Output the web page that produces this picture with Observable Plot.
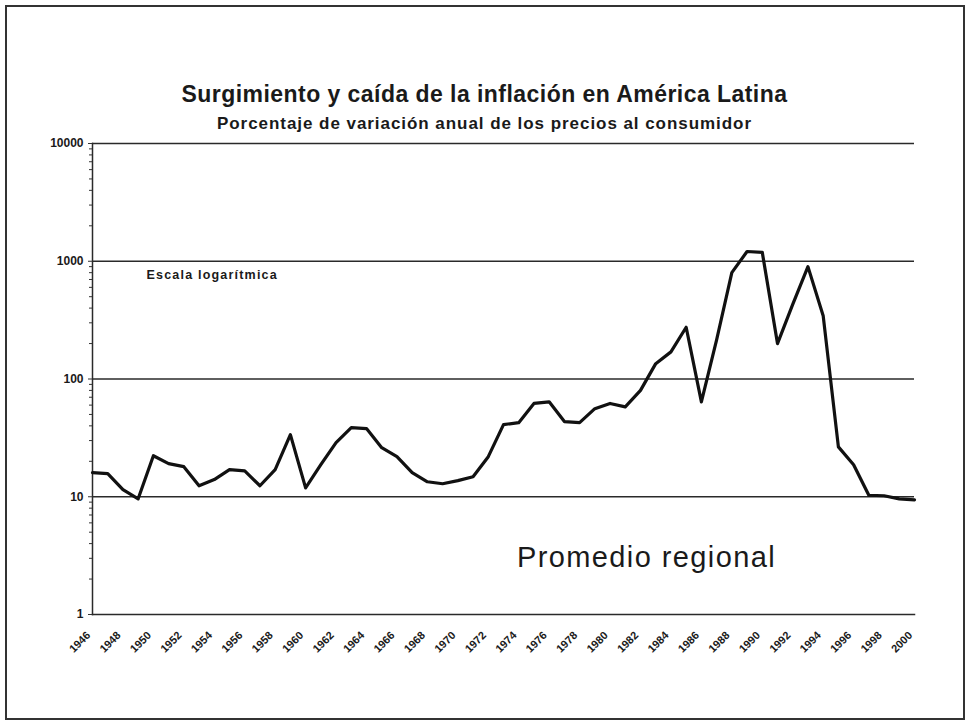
<!DOCTYPE html>
<html>
<head>
<meta charset="utf-8">
<script src="https://cdn.jsdelivr.net/npm/d3@7"></script>
<script src="https://cdn.jsdelivr.net/npm/@observablehq/plot@0.6"></script>
<style>
  html, body { margin: 0; padding: 0; background: #fff; }
  #page { position: relative; width: 969px; height: 721px; overflow: hidden; font-family: "Liberation Sans", Arial, sans-serif; color: #1a1a1a; }
  #frame { position: absolute; left: 5px; top: 5px; width: 960px; height: 715px; box-sizing: border-box; border: 2px solid #333; pointer-events: none; }
  .ttl { position: absolute; left: 0; width: 969px; text-align: center; font-weight: bold; white-space: nowrap; line-height: 1; }
  #title { top: 83px; font-size: 23px; letter-spacing: 0.45px; }
  #subtitle { top: 115px; font-size: 17px; letter-spacing: 0.95px; }
  #chart { position: absolute; left: 0; top: 130px; }
</style>
</head>
<body>
<div id="page">
  <div id="title" class="ttl"></div>
  <div id="subtitle" class="ttl"></div>
  <div id="chart"></div>
  <div id="frame"></div>
</div>
<script>
const titleText = "Surgimiento y caída de la inflación en América Latina";
const subtitleText = "Porcentaje de variación anual de los precios al consumidor";
const noteText = "Escala logarítmica";
const seriesLabel = "Promedio regional";

const years = [1946,1947,1948,1949,1950,1951,1952,1953,1954,1955,1956,1957,1958,1959,1960,
  1961,1962,1963,1964,1965,1966,1967,1968,1969,1970,1971,1972,1973,1974,1975,1976,1977,1978,
  1979,1980,1981,1982,1983,1984,1985,1986,1987,1988,1989,1990,1991,1992,1993,1994,1995,1996,
  1997,1998,1999,2000];
const inflation = [16.0,15.7,11.5,9.6,22.3,19.1,18.0,12.4,14.0,17.0,16.6,12.4,17.0,33.7,11.9,
  18.7,28.8,38.6,37.9,26.1,21.9,16.0,13.4,12.9,13.7,14.8,21.9,41,42.6,62,64,43.5,42.6,
  56,62,58,80,135,170,275,64,215,800,1210,1190,200,430,900,345,26.5,18.7,
  10.3,10.2,9.6,9.4];
const xTickYears = [1946,1948,1950,1952,1954,1956,1958,1960,1962,1964,1966,1968,1970,1972,1974,
  1976,1978,1980,1982,1984,1986,1988,1990,1992,1994,1996,1998,2000];
const yTickValues = [1,10,100,1000,10000];
const gridValues = [10,100,1000,10000];

const data = years.map((y, i) => ({year: y, value: inflation[i]}));
const minorTicks = yTickValues.slice(0, -1).flatMap(d => [2,3,4,5,6,7,8,9].map(k => k * d));

document.getElementById("title").textContent = titleText;
document.getElementById("subtitle").textContent = subtitleText;

const chart = Plot.plot({
  width: 969,
  height: 591,
  marginLeft: 92,
  marginRight: 55,
  marginTop: 13,
  marginBottom: 107,
  style: {fontFamily: "'Liberation Sans', Arial, sans-serif", background: "transparent", color: "#1a1a1a", overflow: "visible"},
  x: {domain: [1946, 2000], axis: null, label: null},
  y: {type: "log", domain: [1, 10000], axis: null, label: null},
  marks: [
    Plot.ruleY(gridValues, {stroke: "#2a2a2a", strokeWidth: 1.3}),
    Plot.frame({anchor: "bottom", stroke: "#2a2a2a", strokeWidth: 1.5}),
    Plot.frame({anchor: "left", stroke: "#2a2a2a", strokeWidth: 1.5}),
    Plot.axisY({ticks: minorTicks, tickSize: 3, tickFormat: () => "", stroke: "#333", label: null}),
    Plot.axisY({ticks: yTickValues, tickSize: 4, tickPadding: 5, tickFormat: d => String(d),
      fontWeight: "bold", fontSize: 12, stroke: "#333", label: null}),
    Plot.axisX({ticks: xTickYears, tickSize: 0, tickPadding: 19, tickRotate: -45, tickFormat: d => String(d),
      fontWeight: "bold", fontSize: 11, dx: -4, label: null}),
    Plot.line(data, {x: "year", y: "value", stroke: "#111", strokeWidth: 3.2, strokeLinejoin: "round"}),
    Plot.text([noteText], {frameAnchor: "top-left", dx: 54, dy: 127, textAnchor: "start",
      fontWeight: "bold", fontSize: 12.5, fill: "#1a1a1a"}),
    Plot.text([seriesLabel], {frameAnchor: "bottom", dx: 143, dy: -48, textAnchor: "middle",
      fontSize: 29, fill: "#1a1a1a"})
  ]
});
d3.select(chart).selectAll("text")
  .filter(function() { return this.textContent === noteText; })
  .style("letter-spacing", "1.2px");
d3.select(chart).selectAll("text")
  .filter(function() { return this.textContent === seriesLabel; })
  .style("letter-spacing", "1.4px");
document.getElementById("chart").appendChild(chart);
</script>
</body>
</html>
